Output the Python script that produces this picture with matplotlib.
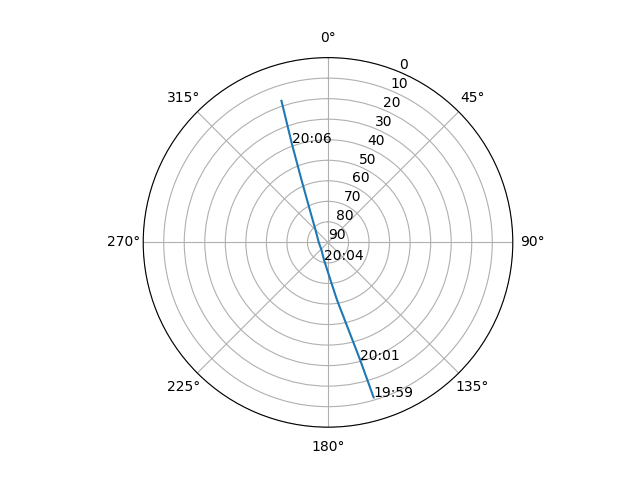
import numpy as np
import matplotlib
matplotlib.use('Agg')
import matplotlib.pyplot as plt

# Satellite pass track: azimuth (deg) and elevation (deg)
azimuth = [163.6, 164.7, 171.1, 176.2, 192.7, 220.2, 270.0, 314.5, 330.7, 337.0, 339.9, 341.8]
elevation = [11.3, 30.6, 61.6, 71.6, 81.2, 85.1, 85.5, 81.5, 72.0, 57.0, 38.7, 17.4]
time_labels = ['19:59', '20:01', '', '', '20:04', '', '', '', '', '', '20:06', '']

fig = plt.figure(figsize=(6.4, 4.8), dpi=100)
ax = fig.add_subplot(111, projection='polar')
ax.set_theta_zero_location('N')
ax.set_theta_direction(-1)

ax.plot(np.radians(azimuth), elevation)
for az, el, lbl in zip(azimuth, elevation, time_labels):
    if lbl:
        ax.text(np.radians(az), el, lbl)

ax.set_ylim(90, 0)
ax.set_yticks(range(0, 91, 10))

fig.savefig('out.png')
